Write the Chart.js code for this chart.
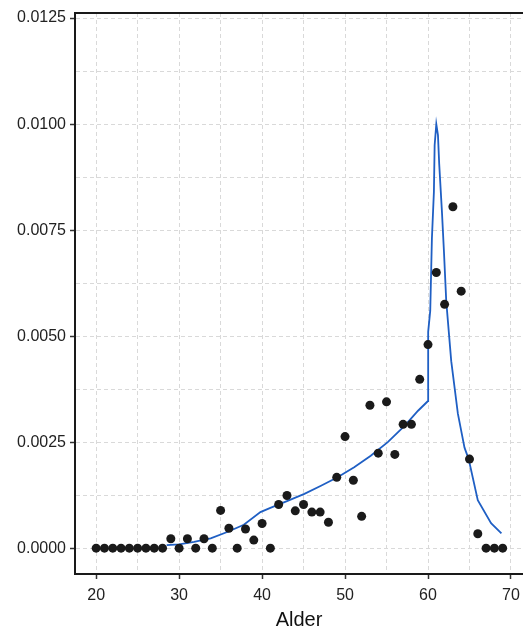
<!DOCTYPE html>
<html>
<head>
<meta charset="utf-8">
<script src="https://cdn.jsdelivr.net/npm/chart.js@4/dist/chart.umd.min.js"></script>
<style>
  html, body { margin: 0; padding: 0; background: #ffffff; overflow: hidden; }
  #wrap { width: 523px; height: 629px; }
  canvas { display: block; }
</style>
</head>
<body>
<div id="wrap"><canvas id="c" width="523" height="629"></canvas></div>
<script>
// Observed rates by age (points)
const ages = [20,21,22,23,24,25,26,27,28,29,30,31,32,33,34,35,36,37,38,39,40,41,42,43,44,45,46,47,48,49,50,51,52,53,54,55,56,57,58,59,60,61,62,63,64,65,66,67,68,69];
const rates = [0,0,0,0,0,0,0,0,0,0.00022,0,0.00022,0,0.00022,0,0.00089,0.00047,0,0.00045,0.00019,0.00058,0,0.00103,0.00124,0.00088,0.00103,0.00085,0.00085,0.00061,0.00167,0.00263,0.0016,0.00075,0.00337,0.00224,0.00345,0.00221,0.00292,0.00292,0.00398,0.0048,0.0065,0.00575,0.00805,0.00606,0.0021,0.00034,0,0,0];

// Fitted curve
const fitAges = [28.5,30,31.8,33.8,35.8,37.8,39.8,41.0,43.0,45.1,47.1,49.1,51.1,53.1,55.15,57.2,58.8,60.0,60.02,60.27,60.47,60.71,60.8,61.0,61.2,61.35,61.68,61.92,62.2,62.8,63.6,64.4,64.9,66.0,67.6,68.85];
const fitValues = [0.00007,0.00009,0.00015,0.00023,0.00038,0.00055,0.00085,0.00095,0.00111,0.00128,0.00147,0.00167,0.00191,0.00218,0.0025,0.00289,0.00324,0.00347,0.0051,0.0056,0.0073,0.0084,0.0095,0.0100,0.00974,0.00906,0.00793,0.0070,0.00582,0.00441,0.00317,0.00237,0.0021,0.00113,0.00059,0.00035];

// Axis ticks
const xTicks = [20,25,30,35,40,45,50,55,60,65,70];
const xLabels = ['20','','30','','40','','50','','60','','70'];
const yTicks = [0,0.00125,0.0025,0.00375,0.005,0.00625,0.0075,0.00875,0.01,0.01125,0.0125];
const yLabels = ['0.0000','','0.0025','','0.0050','','0.0075','','0.0100','','0.0125'];
const xTitle = 'Alder';

const pointData = ages.map((a, i) => ({ x: a, y: rates[i] }));
const fitData = fitAges.map((a, i) => ({ x: a, y: fitValues[i] }));

const FONT = "'Liberation Sans', Arial, Helvetica, sans-serif";
const AXIS = '#1a1a1a';
const GRID = '#d9d9d9';

const topBorder = {
  id: 'topBorder',
  afterDraw(chart) {
    const { ctx, chartArea } = chart;
    ctx.save();
    ctx.strokeStyle = AXIS;
    ctx.lineWidth = 2;
    ctx.beginPath();
    ctx.moveTo(chartArea.left - 1, chartArea.top);
    ctx.lineTo(chartArea.right, chartArea.top);
    ctx.stroke();
    ctx.restore();
  }
};

new Chart(document.getElementById('c'), {
  type: 'scatter',
  data: {
    datasets: [
      {
        label: 'observed',
        data: pointData,
        backgroundColor: '#1a1a1a',
        borderColor: '#1a1a1a',
        pointRadius: 4.5,
        pointBorderWidth: 0,
        showLine: false
      },
      {
        label: 'fit',
        data: fitData,
        showLine: true,
        borderColor: '#1f5fc4',
        borderWidth: 1.8,
        pointRadius: 0,
        tension: 0,
        fill: false
      }
    ]
  },
  plugins: [topBorder],
  options: {
    responsive: false,
    animation: false,
    events: [],
    layout: { autoPadding: false, padding: { top: 13, right: 0, left: 0, bottom: 0 } },
    plugins: { legend: { display: false }, tooltip: { enabled: false } },
    scales: {
      x: {
        type: 'linear',
        min: 17.45,
        max: 71.45,
        afterFit: s => { s.height = 55; s.paddingRight = 0; s.paddingLeft = 0; },
        afterBuildTicks: s => { s.ticks = xTicks.map(v => ({ value: v })); },
        ticks: {
          autoSkip: false,
          maxRotation: 0,
          padding: 7,
          color: '#222',
          font: { family: FONT, size: 16 },
          callback: (v, i) => xLabels[i]
        },
        grid: {
          color: GRID,
          lineWidth: 1,
          tickLength: 5,
          tickWidth: 1.5,
          tickColor: ctx => (ctx.index % 2 === 0 ? '#333' : 'rgba(0,0,0,0)')
        },
        border: { display: true, color: AXIS, width: 2, dash: [4, 3] },
        title: {
          display: true,
          text: xTitle,
          color: '#111',
          padding: 0,
          font: { family: FONT, size: 20, lineHeight: 0.9 }
        }
      },
      y: {
        type: 'linear',
        min: -0.00061,
        max: 0.01262,
        afterFit: s => { s.width = 75; s.paddingTop = 0; s.paddingBottom = 0; },
        afterBuildTicks: s => { s.ticks = yTicks.map(v => ({ value: v })); },
        ticks: {
          autoSkip: false,
          padding: 4,
          color: '#222',
          font: { family: FONT, size: 16 },
          callback: (v, i) => yLabels[i]
        },
        grid: {
          color: GRID,
          lineWidth: 1,
          tickLength: 5,
          tickWidth: 1.5,
          tickColor: ctx => (ctx.index % 2 === 0 ? '#333' : 'rgba(0,0,0,0)')
        },
        border: { display: true, color: AXIS, width: 2, dash: [4, 3] }
      }
    }
  }
});
</script>
</body>
</html>
